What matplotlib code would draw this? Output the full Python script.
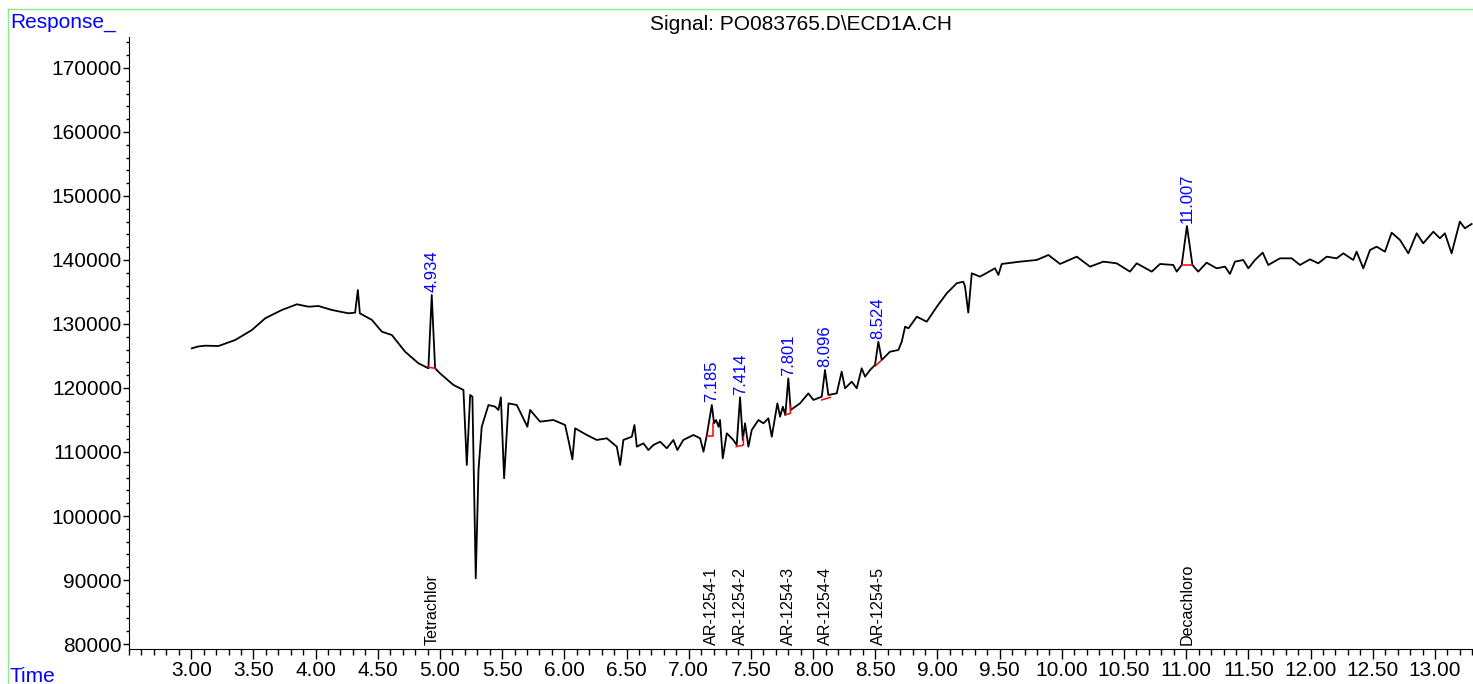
import matplotlib
matplotlib.use("Agg")
import matplotlib.pyplot as plt
from matplotlib.ticker import MultipleLocator, FixedLocator, FormatStrFormatter
from matplotlib.lines import Line2D

plt.rcParams['font.family'] = ['Liberation Sans', 'DejaVu Sans']

# chromatogram trace (time in min, response in counts)
time_min = [3.005, 3.06, 3.113, 3.22, 3.354, 3.488, 3.595, 3.729, 3.85, 3.943,
            4.023, 4.131, 4.264, 4.318, 4.34, 4.356, 4.453, 4.533, 4.613, 4.72,
            4.827, 4.907, 4.934, 4.961, 5.0, 5.109, 5.189, 5.216, 5.243, 5.261,
            5.288, 5.31, 5.336, 5.39, 5.444, 5.47, 5.49, 5.516, 5.551, 5.618,
            5.703, 5.725, 5.805, 5.912, 6.006, 6.033, 6.065, 6.087, 6.181, 6.261,
            6.342, 6.422, 6.449, 6.475, 6.543, 6.564, 6.583, 6.636, 6.676, 6.716,
            6.77, 6.824, 6.877, 6.909, 6.957, 7.038, 7.092, 7.119, 7.146, 7.186,
            7.204, 7.22, 7.24, 7.252, 7.274, 7.306, 7.359, 7.386, 7.413, 7.435,
            7.453, 7.48, 7.507, 7.561, 7.601, 7.641, 7.668, 7.713, 7.735, 7.757,
            7.777, 7.801, 7.82, 7.895, 7.962, 8.003, 8.07, 8.096, 8.123, 8.19,
            8.23, 8.257, 8.311, 8.351, 8.391, 8.418, 8.458, 8.498, 8.525, 8.552,
            8.619, 8.686, 8.713, 8.74, 8.767, 8.834, 8.914, 8.995, 9.075, 9.155,
            9.208, 9.222, 9.248, 9.276, 9.342, 9.463, 9.49, 9.517, 9.664, 9.798,
            9.892, 9.986, 10.12, 10.227, 10.334, 10.441, 10.548, 10.602, 10.723, 10.79,
            10.896, 10.924, 10.964, 11.006, 11.05, 11.097, 11.164, 11.245, 11.312, 11.352,
            11.392, 11.459, 11.5, 11.553, 11.615, 11.66, 11.754, 11.848, 11.915, 11.995,
            12.062, 12.13, 12.21, 12.263, 12.343, 12.37, 12.424, 12.478, 12.531, 12.598,
            12.652, 12.719, 12.786, 12.853, 12.906, 12.987, 13.04, 13.08, 13.134, 13.2,
            13.241, 13.295]
response = [126200, 126500, 126610, 126560, 127500, 129060, 130890, 132190, 133080, 132700,
            132810, 132190, 131670, 131770, 135310, 131670, 130630, 128800, 128280, 125670,
            123860, 123080, 134530, 123080, 122300, 120470, 119690, 107970, 118910, 118640,
            90270, 107190, 113950, 117340, 117080, 116560, 118540, 105890, 117600, 117340,
            113950, 116560, 114740, 115000, 114220, 111880, 108850, 113700, 112660, 111880,
            112140, 110830, 107970, 111880, 112390, 114220, 110830, 111360, 110310, 111090,
            111610, 110580, 111880, 110310, 111880, 112660, 112140, 110050, 112660, 117340,
            114480, 115000, 113950, 115000, 109010, 112920, 111880, 111090, 118540, 111880,
            114480, 110830, 113440, 115000, 114480, 115260, 112390, 117600, 115520, 117080,
            115780, 121510, 116560, 117600, 119160, 118130, 118640, 122810, 118910, 119160,
            122550, 119950, 120990, 119950, 123080, 121770, 122810, 123590, 127230, 124380,
            125670, 125940, 127230, 129580, 129320, 131140, 130360, 132700, 134800, 136360,
            136610, 135830, 131770, 137920, 137400, 138700, 137660, 139380, 139740, 140000,
            140780, 139380, 140520, 138960, 139740, 139480, 138180, 139480, 138180, 139380,
            139220, 138180, 139220, 145310, 139220, 138180, 139580, 138700, 138960, 137810,
            139740, 140000, 138700, 140000, 141150, 139220, 140260, 140260, 139220, 140100,
            139480, 140520, 140260, 141040, 140000, 141300, 138700, 141560, 142080, 141300,
            144270, 143120, 141040, 144170, 142610, 144420, 143390, 144170, 141040, 145990,
            144950, 145630]

# integrated peaks
peak_rt = [4.934, 7.185, 7.414, 7.801, 8.096, 8.524, 11.007]
peak_top = [134530, 117340, 118540, 121510, 122810, 127230, 145310]
compound = ["Tetrachlor", "AR-1254-1", "AR-1254-2", "AR-1254-3", "AR-1254-4",
            "AR-1254-5", "Decachloro"]

# red baselines of the integration
bl_t0 = [4.908, 7.146, 7.382, 7.775, 8.070, 8.500, 10.964]
bl_y0 = [123230, 112500, 110830, 115780, 118130, 123440, 139200]
bl_t1 = [4.961, 7.194, 7.440, 7.818, 8.137, 8.543, 11.046]
bl_y1 = [123080, 112500, 111090, 116050, 118540, 124220, 139200]
bl_drop = [123080, 114480, 112390, 117190, 118540, 124220, 139200]

# labelled time ticks
time_ticks = [3.0, 3.5, 4.0, 4.5, 5.0, 5.5, 6.0, 6.5, 7.0, 7.5, 8.0, 8.5,
              9.0, 9.5, 10.0, 10.5, 11.0, 11.5, 12.0, 12.5, 13.0]

W, H = 1473, 684
fig = plt.figure(figsize=(W / 100, H / 100), dpi=100)
ax = fig.add_axes([129 / W, 1 - 649 / H, 1 - 129 / W, (649 - 37) / H])

ax.plot(time_min, response, color='black', lw=1.3, zorder=2)
for i in range(len(bl_t0)):
    ax.plot([bl_t0[i], bl_t1[i], bl_t1[i]], [bl_y0[i], bl_y1[i], bl_drop[i]],
            color='red', lw=1.1, zorder=3)

for rt, top in zip(peak_rt, peak_top):
    ax.annotate("%.3f" % rt, (rt, top), xytext=(0, 2), textcoords='offset points',
                rotation=90, ha='center', va='bottom', color='#0000ff', fontsize=12)

ymin, ymax = 79220, 174840
for rt, name in zip(peak_rt, compound):
    ax.annotate(name, (rt, ymin), xytext=(0, 3), textcoords='offset points',
                rotation=90, ha='center', va='bottom', color='black', fontsize=11.6)

ax.set_xlim(2.5, 13.306)
ax.set_ylim(ymin, ymax)

ax.xaxis.set_major_locator(FixedLocator(time_ticks))
ax.xaxis.set_minor_locator(MultipleLocator(0.1))
ax.xaxis.set_major_formatter(FormatStrFormatter('%.2f'))
ax.yaxis.set_major_locator(MultipleLocator(10000))
ax.yaxis.set_minor_locator(MultipleLocator(2000))
ax.yaxis.set_major_formatter(FormatStrFormatter('%d'))

ax.tick_params(axis='x', which='major', length=7.5, width=1, pad=1, labelsize=15)
ax.tick_params(axis='x', which='minor', length=4, width=1)
ax.tick_params(axis='y', which='major', length=4, width=1, pad=1, labelsize=15)
ax.tick_params(axis='y', which='minor', length=2.5, width=1)

ax.spines['top'].set_visible(False)
ax.spines['right'].set_visible(False)

# green page frame
frame = '#88ee88'
fig.add_artist(Line2D([8 / W, 1], [1 - 9 / H, 1 - 9 / H], transform=fig.transFigure, color=frame, lw=1))
fig.add_artist(Line2D([8 / W, 8 / W], [0, 1 - 9 / H], transform=fig.transFigure, color=frame, lw=1))

fig.text(10 / W, 1 - 22 / H, "Response_", color='#0000ff', fontsize=15, ha='left', va='center')
fig.text(10 / W, 1 - 677 / H, "Time", color='#0000ff', fontsize=15, ha='left', va='center')
fig.text(801 / W, 1 - 24 / H, "Signal: PO083765.D\\ECD1A.CH", color='black', fontsize=15,
         ha='center', va='center')

fig.savefig("out.png", dpi=100)
